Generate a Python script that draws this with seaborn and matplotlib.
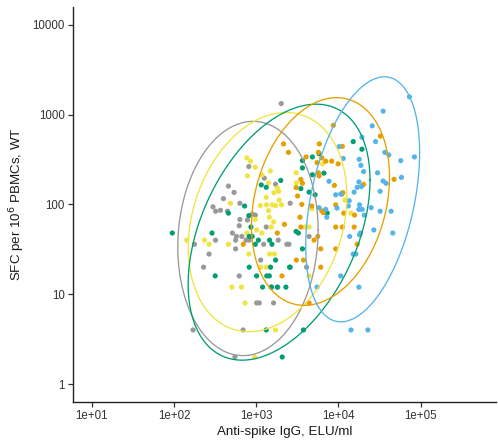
import numpy as np
import pandas as pd
import matplotlib
matplotlib.use("Agg")
import matplotlib.pyplot as plt
import seaborn as sns

# Anti-spike IgG (ELU/ml) and SFC per 10^6 PBMCs, one pair of lists per group
grey_igg = [2010, 811, 1250, 1715, 458, 537, 398, 631, 297, 320, 366, 445, 895, 973,
            631, 780, 620, 1321, 512, 667, 573, 319, 560, 750, 820, 1230, 1850, 2356,
            2500, 177, 560, 266, 1130, 228, 620, 1520, 1823, 1009, 1087, 1622, 170, 690,
            549, 2584, 4389, 4090]
grey_sfc = [1327, 264, 196, 168, 160, 136, 116, 103, 94, 84, 86, 84, 78, 76,
            68, 67, 58, 56, 48, 44, 44, 40, 40, 40, 40, 36, 40, 36,
            36, 36, 32, 28, 24, 20, 16, 12, 12, 8, 8, 8, 4, 4,
            2, 103, 44, 20]

yellow_igg = [767, 846, 970, 1479, 780, 1170, 1409, 1800, 484, 1321, 1640, 1870, 1120,
              1330, 1560, 1720, 2030, 1901, 1409, 1440, 973, 1622, 1520, 1009, 1170, 767,
              142, 234, 266, 458, 811, 1450, 1660, 1130, 1321, 505, 660, 729, 1715, 960,
              6400, 3050, 3070, 4730, 11990, 14200, 3900, 4389, 4389]
yellow_sfc = [330, 303, 260, 236, 208, 213, 174, 152, 103, 120, 135, 140, 97,
              99, 99, 97, 99, 112, 85, 72, 68, 64, 56, 52, 48, 48,
              40, 40, 36, 36, 28, 28, 28, 20, 20, 12, 12, 8, 4, 2,
              283, 225, 174, 89, 112, 80, 56, 56, 16]

green_igg = [1983, 1149, 1321, 15100, 19270, 5800, 4812, 3641, 3641, 6650, 4812, 3482,
             4389, 5188, 6992, 7300, 720, 458, 811, 860, 820, 890, 95, 289, 973, 1060,
             1450, 1550, 1715, 820, 1490, 2540, 316, 1009, 1340, 1440, 1192, 1530, 1800,
             2290, 1321, 3744, 2067, 3050, 3250, 3641, 2584]
green_sfc = [185, 165, 155, 501, 412, 368, 338, 307, 255, 223, 214, 150,
             137, 128, 83, 80, 96, 80, 75, 56, 44, 44, 48, 48, 36, 40,
             40, 36, 24, 20, 20, 20, 16, 16, 16, 16, 12, 12, 12,
             12, 4, 4, 2, 50, 48, 32, 20]

orange_igg = [2143, 2460, 8655, 32300, 11130, 5847, 6250, 4036, 6992, 8274, 9900, 5484,
              5687, 3482, 3641, 20200, 47450, 8906, 3050, 3580, 4730, 6252, 6530, 3400,
              11000, 11300, 9253, 15700, 3482, 9253, 11130, 15500, 5600, 5046, 16900, 6080,
              9253, 3070, 3744, 6080, 2050, 4389, 2200, 1800, 695, 5687, 5800, 3180, 11600]
orange_sfc = [472, 380, 760, 576, 443, 472, 330, 338, 303, 303, 283, 292,
              225, 190, 172, 167, 190, 163, 154, 100, 96, 85, 81, 72,
              130, 135, 99, 76, 56, 56, 56, 56, 44, 40, 36, 32,
              32, 24, 24, 20, 16, 8, 60, 48, 36, 380, 208, 124, 80]

blue_igg = [72900, 34920, 25700, 28250, 19270, 10150, 36630, 40930, 83950, 11440, 17870,
            18700, 57240, 20200, 29880, 7673, 17700, 34920, 37960, 58300, 16900, 19000,
            5800, 7200, 6992, 9253, 10640, 15500, 32100, 13500, 13200, 9600, 18000, 17700,
            19400, 24990, 32100, 43630, 20600, 26930, 45790, 13670, 18000, 18500, 16300,
            15100, 10640, 5484, 17700, 14200, 22780]
blue_sfc = [1578, 1092, 750, 501, 560, 440, 380, 356, 338, 325, 318,
            272, 307, 232, 225, 181, 178, 182, 172, 200, 155, 158,
            92, 72, 88, 128, 131, 137, 140, 110, 96, 91, 99, 88,
            88, 92, 84, 84, 76, 52, 48, 44, 46, 48, 28,
            28, 16, 12, 12, 4, 4]

groups = ["A", "B", "C", "D", "E"]
palette = {"A": "#999999", "B": "#F0E442", "C": "#009E73", "D": "#E69F00", "E": "#56B4E9"}
x_ticks = [1e1, 1e2, 1e3, 1e4, 1e5]
x_labels = ["1e+01", "1e+02", "1e+03", "1e+04", "1e+05"]
y_ticks = [1, 10, 100, 1000, 10000]
y_labels = ["1", "10", "100", "1000", "10000"]

series = {
    "A": (grey_igg, grey_sfc),
    "B": (yellow_igg, yellow_sfc),
    "C": (green_igg, green_sfc),
    "D": (orange_igg, orange_sfc),
    "E": (blue_igg, blue_sfc),
}
df = pd.concat(
    [pd.DataFrame({"igg": xs, "sfc": ys, "group": g}) for g, (xs, ys) in series.items()],
    ignore_index=True,
)


def norm_ellipse(xs, ys, level=0.95, segments=200):
    """95% normal-theory ellipse in log10 space, returned on the data scale."""
    pts = np.column_stack([np.log10(xs), np.log10(ys)])
    center = pts.mean(0)
    shape = np.cov(pts, rowvar=False)
    dfn, dfd = 2, len(pts) - 1
    # F(2, d) quantile has a closed form
    fq = (dfd / 2.0) * ((1 - level) ** (-2.0 / dfd) - 1)
    radius = np.sqrt(dfn * fq)
    ang = np.linspace(0, 2 * np.pi, segments + 1)
    circle = np.column_stack([np.cos(ang), np.sin(ang)])
    chol = np.linalg.cholesky(shape).T
    ell = center + radius * (circle @ chol)
    return 10 ** ell[:, 0], 10 ** ell[:, 1]


sns.set_theme(style="ticks")
plt.rcParams["font.family"] = ["Liberation Sans", "DejaVu Sans"]

fig = plt.figure(figsize=(4.98, 4.48), dpi=100)
ax = fig.add_axes([0.1466, 0.1027, 0.850, 0.882])

sns.scatterplot(data=df, x="igg", y="sfc", hue="group", hue_order=groups,
                palette=palette, s=14, linewidth=0, ax=ax, legend=False, zorder=3)

for g in groups:
    ex, ey = norm_ellipse(*series[g])
    ax.plot(ex, ey, color=palette[g], lw=0.95, zorder=4)

ax.set_xscale("log")
ax.set_yscale("log")
ax.set_xlim(10 ** 0.77, 10 ** 5.92)
ax.set_ylim(10 ** -0.2, 10 ** 4.2)
ax.set_xticks(x_ticks)
ax.set_xticklabels(x_labels)
ax.set_yticks(y_ticks)
ax.set_yticklabels(y_labels)
ax.minorticks_off()

for side in ["top", "right"]:
    ax.spines[side].set_visible(False)
for side in ["left", "bottom"]:
    ax.spines[side].set_color("#222222")
    ax.spines[side].set_linewidth(1.0)
ax.tick_params(axis="both", length=3.5, width=0.9, color="#333333",
               labelsize=8.3, labelcolor="#333333", pad=2.5)

ax.set_xlabel("Anti-spike IgG, ELU/ml", fontsize=9.6, color="#1a1a1a", labelpad=3)
ax.set_ylabel("SFC per 10$^{6}$ PBMCs, WT", fontsize=9.6, color="#1a1a1a", labelpad=4)

fig.savefig("out.png", dpi=100, facecolor="white")
